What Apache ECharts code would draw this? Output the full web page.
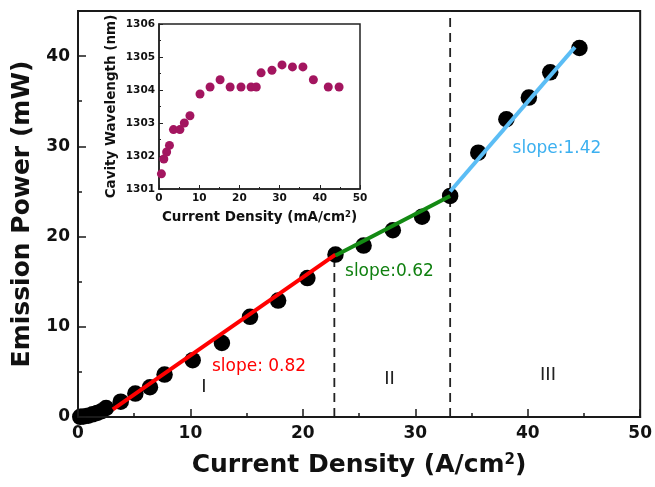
<!DOCTYPE html>
<html>
<head>
<meta charset="utf-8">
<script src="https://cdn.jsdelivr.net/npm/echarts@6/dist/echarts.min.js"></script>
<style>
html,body{margin:0;padding:0;background:#fff;}
#chart{width:655px;height:487px;}
</style>
</head>
<body>
<div id="chart"></div>
<script>
// ---- Main chart data: emission power vs current density ----
var currentDensity = [0.2, 0.5, 0.9, 1.3, 1.7, 2.1, 2.5, 3.8, 5.1, 6.4, 7.7, 10.2, 12.8, 15.3, 17.8, 20.4, 22.9, 25.4, 28.0, 30.6, 33.1, 35.6, 38.1, 40.1, 42.0, 44.6];
var emissionPower  = [0.02, 0.06, 0.15, 0.3, 0.45, 0.65, 1.0, 1.7, 2.6, 3.3, 4.7, 6.3, 8.2, 11.1, 12.9, 15.4, 18.0, 19.0, 20.7, 22.2, 24.5, 29.3, 33.0, 35.4, 38.2, 40.9];

// linear fits per region: [x, y] end points
var fitRegionI   = [[3.1, 0.85], [22.9, 18.0]];
var fitRegionII  = [[22.9, 17.9], [33.1, 24.5]];
var fitRegionIII = [[33.1, 25.0], [44.2, 41.0]];

// region boundaries (x) and the top of each dashed line (y)
var boundaryX   = [22.8, 33.1];
var boundaryTop = [18.0, 45.0];

// annotations: text, x, y (data coordinates)
var slopeTexts  = ['slope: 0.82', 'slope:0.62', 'slope:1.42'];
var slopeX      = [16.1, 27.7, 42.6];
var slopeY      = [5.6, 16.1, 29.7];
var regionTexts = ['I', 'II', 'III'];
var regionX     = [11.2, 27.7, 41.8];
var regionY     = [3.3, 4.2, 4.6];

// axis ticks
var mainXTicks = [0, 10, 20, 30, 40, 50];
var mainYTicks = [0, 10, 20, 30, 40];

// ---- Inset data: cavity wavelength vs current density ----
var insetDensity = [0.6, 1.2, 1.9, 2.6, 3.6, 5.2, 6.3, 7.7, 10.2, 12.7, 15.2, 17.7, 20.4, 22.9, 24.2, 25.4, 28.1, 30.6, 33.2, 35.8, 38.4, 42.1, 44.8];
var cavityWavelength = [1301.46, 1301.91, 1302.12, 1302.32, 1302.8, 1302.8, 1303.0, 1303.22, 1303.88, 1304.09, 1304.31, 1304.09, 1304.09, 1304.09, 1304.09, 1304.52, 1304.6, 1304.76, 1304.7, 1304.7, 1304.31, 1304.09, 1304.09];
var insetXTicks = [0, 10, 20, 30, 40, 50];
var insetYTicks = [1301, 1302, 1303, 1304, 1305, 1306];

// ---- build ----
var FONT = 'DejaVu Sans';
var INK = '#111';
function zip(xs, ys) { return xs.map(function (x, i) { return [x, ys[i]]; }); }

var slopeColors = ['#ff0000', '#108010', '#3cb0f0'];
var fitColors = ['#ff0000', '#138a13', '#5bbdf5'];

var series = [];
series.push({
  type: 'scatter', xAxisIndex: 0, yAxisIndex: 0,
  data: zip(currentDensity, emissionPower),
  symbolSize: 16.5, itemStyle: { color: '#000', opacity: 1 }, z: 3, clip: true
});
[fitRegionI, fitRegionII, fitRegionIII].forEach(function (seg, i) {
  series.push({
    type: 'line', xAxisIndex: 0, yAxisIndex: 0, data: seg,
    showSymbol: false, symbol: 'none',
    lineStyle: { color: fitColors[i], width: 4 }, z: 5, silent: true
  });
});
boundaryX.forEach(function (bx, i) {
  series.push({
    type: 'line', xAxisIndex: 0, yAxisIndex: 0,
    data: [[bx, 0], [bx, boundaryTop[i]]],
    symbol: 'none',
    lineStyle: { color: '#222', width: 1.8, type: [9, 6] }, z: 2, silent: true
  });
});
series.push({
  type: 'scatter', xAxisIndex: 0, yAxisIndex: 0, symbolSize: 0, z: 6, silent: true,
  itemStyle: { opacity: 1 },
  data: slopeTexts.map(function (t, i) {
    return {
      value: [slopeX[i], slopeY[i]],
      label: {
        show: true, position: 'inside', formatter: t,
        color: slopeColors[i], fontSize: 17, fontFamily: FONT
      }
    };
  })
});
series.push({
  type: 'scatter', xAxisIndex: 0, yAxisIndex: 0, symbolSize: 0, z: 6, silent: true,
  itemStyle: { opacity: 1 },
  data: regionTexts.map(function (t, i) {
    return {
      value: [regionX[i], regionY[i]],
      label: {
        show: true, position: 'inside', formatter: t,
        color: '#222', fontSize: 18, fontFamily: FONT
      }
    };
  })
});
series.push({
  type: 'scatter', xAxisIndex: 1, yAxisIndex: 1,
  data: zip(insetDensity, cavityWavelength),
  symbolSize: 9, itemStyle: { color: '#a3155f', opacity: 1 }, z: 10, clip: false
});

var option = {
  animation: false,
  backgroundColor: '#fff',
  grid: [
    { left: 78, top: 11, width: 565, height: 406, show: true, borderColor: '#1a1a1a', borderWidth: 2, backgroundColor: 'transparent', z: 1 },
    { left: 159, top: 24, width: 201, height: 165, show: true, borderColor: '#222', borderWidth: 1.5, backgroundColor: '#fff', z: 8 }
  ],
  xAxis: [
    {
      gridIndex: 0, type: 'value', min: mainXTicks[0], max: mainXTicks[mainXTicks.length - 1],
      interval: mainXTicks[1] - mainXTicks[0],
      axisLine: { show: true, onZero: false, lineStyle: { color: '#1a1a1a', width: 2 } },
      axisTick: { show: true, inside: true, length: 8, lineStyle: { color: '#1a1a1a', width: 1.5 } },
      minorTick: { show: true, splitNumber: 2, length: 4, lineStyle: { color: '#1a1a1a', width: 1.5 } },
      splitLine: { show: false },
      axisLabel: { color: INK, fontSize: 17, fontWeight: 'bold', fontFamily: FONT, margin: 8 },
      name: '{t|Current Density (A/cm}{s|2}{t|)}',
      nameLocation: 'middle', nameGap: 36,
      nameTextStyle: {
        rich: {
          t: { fontSize: 25, fontWeight: 'bold', fontFamily: FONT, color: INK },
          s: { fontSize: 15, fontWeight: 'bold', fontFamily: FONT, color: INK, verticalAlign: 'top' }
        }
      },
      z: 4
    },
    {
      gridIndex: 1, type: 'value', min: insetXTicks[0], max: insetXTicks[insetXTicks.length - 1],
      interval: insetXTicks[1] - insetXTicks[0],
      axisLine: { show: true, onZero: false, lineStyle: { color: '#222', width: 1.5 } },
      axisTick: { show: true, inside: true, length: 4, lineStyle: { color: '#222', width: 1 } },
      minorTick: { show: true, splitNumber: 2, length: 2, lineStyle: { color: '#222', width: 1 } },
      splitLine: { show: false },
      axisLabel: { color: INK, fontSize: 10.5, fontWeight: 'bold', fontFamily: FONT, margin: 4 },
      name: '{t|Current Density (mA/cm}{s|2}{t|)}',
      nameLocation: 'middle', nameGap: 21,
      nameTextStyle: {
        rich: {
          t: { fontSize: 13.5, fontWeight: 'bold', fontFamily: FONT, color: INK },
          s: { fontSize: 8.5, fontWeight: 'bold', fontFamily: FONT, color: INK, verticalAlign: 'top' }
        }
      },
      z: 9
    }
  ],
  yAxis: [
    {
      gridIndex: 0, type: 'value', min: mainYTicks[0], max: 45,
      interval: mainYTicks[1] - mainYTicks[0],
      axisLine: { show: true, onZero: false, lineStyle: { color: '#1a1a1a', width: 2 } },
      axisTick: { show: true, inside: true, length: 8, lineStyle: { color: '#1a1a1a', width: 1.5 } },
      minorTick: { show: true, splitNumber: 2, length: 4, lineStyle: { color: '#1a1a1a', width: 1.5 } },
      splitLine: { show: false },
      axisLabel: {
        color: INK, fontSize: 17, fontWeight: 'bold', fontFamily: FONT, margin: 8,
        formatter: function (v) { return mainYTicks.indexOf(v) >= 0 ? String(v) : ''; }
      },
      name: 'Emission Power (mW)',
      nameLocation: 'middle', nameGap: 39, nameRotate: 90,
      nameTextStyle: { fontSize: 25, fontWeight: 'bold', fontFamily: FONT, color: INK },
      z: 4
    },
    {
      gridIndex: 1, type: 'value', min: insetYTicks[0], max: insetYTicks[insetYTicks.length - 1],
      interval: insetYTicks[1] - insetYTicks[0],
      axisLine: { show: true, onZero: false, lineStyle: { color: '#222', width: 1.5 } },
      axisTick: { show: true, inside: true, length: 4, lineStyle: { color: '#222', width: 1 } },
      minorTick: { show: true, splitNumber: 2, length: 2, lineStyle: { color: '#222', width: 1 } },
      splitLine: { show: false },
      axisLabel: {
        color: INK, fontSize: 10.5, fontWeight: 'bold', fontFamily: FONT, margin: 4,
        formatter: function (v) { return String(v); }
      },
      name: 'Cavity Wavelength (nm)',
      nameLocation: 'middle', nameGap: 41, nameRotate: 90,
      nameTextStyle: { fontSize: 13.5, fontWeight: 'bold', fontFamily: FONT, color: INK },
      z: 9
    }
  ],
  series: series
};

var chart = echarts.init(document.getElementById('chart'), null, { renderer: 'canvas' });
chart.setOption(option);
</script>
</body>
</html>
